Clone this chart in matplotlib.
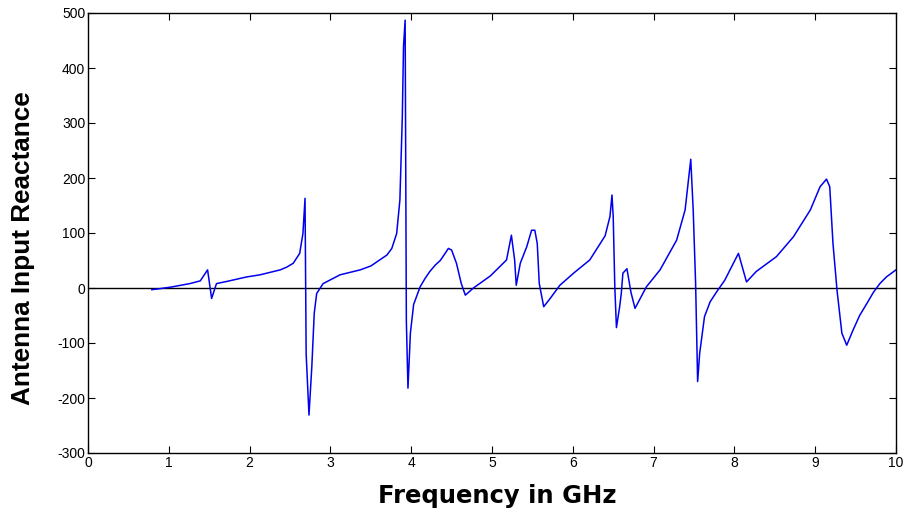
import matplotlib
matplotlib.use("Agg")
import matplotlib.pyplot as plt

plt.rcParams["font.family"] = ["Liberation Sans", "DejaVu Sans"]
plt.rcParams["axes.unicode_minus"] = False

# Antenna input reactance versus frequency
freq_ghz = [
    0.79, 0.90, 1.04, 1.26, 1.39, 1.48, 1.53, 1.59, 1.72, 1.96, 2.13, 2.38,
    2.46, 2.54, 2.62, 2.66, 2.686, 2.70, 2.735, 2.77, 2.80, 2.83, 2.91, 3.12,
    3.37, 3.50, 3.61, 3.70, 3.76, 3.82, 3.86, 3.89, 3.905, 3.925, 3.94, 3.96,
    3.99, 4.03, 4.11, 4.17, 4.23, 4.30, 4.36, 4.42, 4.46, 4.50, 4.56, 4.62,
    4.67, 4.77, 4.98, 5.18, 5.24, 5.28, 5.30, 5.35, 5.43, 5.49, 5.53, 5.56,
    5.585, 5.64, 5.72, 5.84, 6.01, 6.21, 6.34, 6.40, 6.46, 6.485, 6.50, 6.52,
    6.54, 6.58, 6.60, 6.62, 6.67, 6.72, 6.77, 6.91, 7.08, 7.285, 7.39, 7.46,
    7.49, 7.52, 7.545, 7.57, 7.63, 7.70, 7.78, 7.88, 8.05, 8.15, 8.27, 8.52,
    8.73, 8.94, 9.06, 9.14, 9.18, 9.22, 9.27, 9.33, 9.39, 9.47, 9.55, 9.64,
    9.72, 9.80, 9.88, 10.0,
]
reactance = [
    -3, -1, 2, 8, 13, 33, -19, 8, 12, 20, 24, 33,
    38, 45, 63, 99, 163, -120, -231, -143, -46, -10, 8, 24,
    33, 40, 51, 60, 72, 99, 160, 311, 440, 487, -60, -182,
    -82, -30, 2, 17, 30, 42, 50, 63, 72, 69, 45, 8,
    -13, 0, 22, 51, 96, 51, 5, 45, 75, 105, 105, 81,
    8, -34, -19, 5, 27, 51, 81, 95, 130, 169, 130, 2,
    -72, -34, -10, 27, 35, -8, -37, 2, 33, 87, 142, 234,
    142, 8, -170, -119, -52, -25, -7, 14, 63, 11, 30, 57,
    93, 142, 184, 198, 184, 81, -4, -82, -104, -76, -50, -28,
    -8, 8, 20, 33,
]

x_ticks = list(range(0, 11))
y_ticks = list(range(-300, 501, 100))

fig = plt.figure(figsize=(9.14, 5.13), dpi=100)
ax = fig.add_axes([88 / 914, 1 - 453 / 513, (896 - 88) / 914, (453 - 13) / 513])

ax.axhline(0, color="black", linewidth=1.0, zorder=1)
ax.plot(freq_ghz, reactance, color="#0000ee", linewidth=1.1, zorder=2)

ax.set_xlim(0, 10)
ax.set_ylim(-300, 500)
ax.set_xticks(x_ticks)
ax.set_yticks(y_ticks)
ax.tick_params(direction="in", length=5, width=0.8, top=True, right=True,
               labelsize=10, pad=2)
for s in ax.spines.values():
    s.set_linewidth(1.0)

ax.set_xlabel("Frequency in GHz", fontsize=17.5, fontweight="bold",
              family=["DejaVu Sans"], labelpad=10)
ax.xaxis.label.set_x(0.506)
ax.set_ylabel("Antenna Input Reactance", fontsize=18.8, fontweight="bold",
              labelpad=16)
ax.yaxis.label.set_y(0.466)

fig.savefig("out.png", dpi=100)
